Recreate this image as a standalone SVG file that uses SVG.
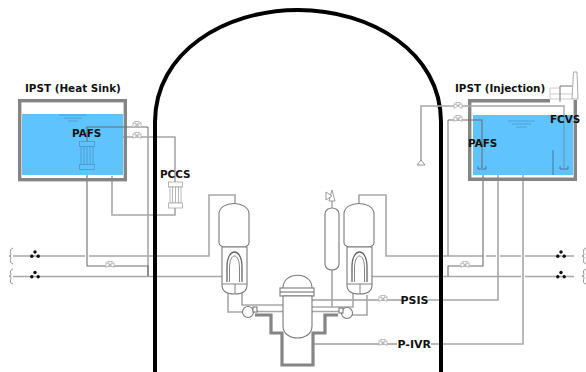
<svg xmlns="http://www.w3.org/2000/svg" width="586" height="372" viewBox="0 0 586 372">
<defs>
<style>
text{font-family:"DejaVu Sans",sans-serif;font-weight:700;fill:#111;font-size:10.4px}
.p{fill:none;stroke:#a8a8a8;stroke-width:1.6}
.d{fill:none;stroke:#6e6e6e;stroke-width:1.1}
.t{fill:none;stroke:#858585;stroke-width:3.2}
.e{fill:#fff;stroke:#7a7a7a;stroke-width:1.1}
.w{fill:#5fc3fd}
.l{fill:none;stroke:#4f9ac8;stroke-width:.8}
.h{fill:#111}
.j{fill:none;stroke:#777;stroke-width:.9}
.n{fill:none;stroke:#3d6f90;stroke-width:.9}
</style>
<g id="v"><path d="M-4 -2.500L4 2.500V-2.500L-4 2.500ZM0 0L-2.500 -3.500H2.500Z" fill="#fff" stroke="#b5b5b5" stroke-width=".9"/></g>
<g id="c"><circle cx="0" cy="-2.500" r="1.700" class="h"/><circle cx="-3.200" cy="1.800" r="1.700" class="h"/><circle cx="3.200" cy="1.800" r="1.700" class="h"/></g>
</defs>
<rect width="586" height="372" fill="#fff"/>

<g id="connectors">
<path class="p" d="M13 256H85M89 256H209V195H235V204"/>
<path class="p" d="M13 276.500H222"/>
<path class="p" d="M148 127V276.500"/>
<path class="p" d="M123 137H175V182M112 176V215H175V208"/>
<path class="d" d="M87 169V266H148V276"/>
<path class="p" d="M359 204V195H386V256H483M486 256H496M500 256H521M525 256H574"/>
<path class="p" d="M372 276.500H521M525 276.500H574"/>
<path class="p" d="M448 120V256"/>
<path class="d" d="M483 175V266H448V276"/>
<path class="p" d="M498 175V300H427M523 175V344H431"/>
<path class="d" d="M402 300H311M397 344H313"/>
<path class="p" d="M228 291V312H242M242 293V305H283M255 311.500H283"/>
<path class="p" d="M367 295V315H352M353 293V307H311M311 311.500H340"/>
<path class="p" d="M332 269V307"/>
</g>

<g id="containment"><path d="M155 372V122C155 52 225 10 298 10C371 10 441 52 441 122V372" fill="none" stroke="#000" stroke-width="4"/></g>

<g id="ipst-heat-sink">
<rect class="w" x="22" y="114" width="101" height="61"/>
<rect x="19.700" y="100.700" width="105.600" height="79" fill="none" stroke="#858585" stroke-width="3.400"/>
<path class="l" d="M59 115H87M64 118H82M68 121H78"/>
<text x="25" y="92">IPST (Heat Sink)</text>
</g>
<g id="pafs-left-hx" fill="#5fc3fd" stroke="#4f9ac8" stroke-width=".9">
<rect x="79.500" y="141.500" width="15" height="5"/><rect x="81" y="146.500" width="12" height="18"/><rect x="79.500" y="164.500" width="15" height="5"/>
<path d="M84 146.500V164.500M87 146.500V164.500M90 146.500V164.500" fill="none"/>
<path class="d" d="M87 141V127H148"/>
<text x="72" y="137" stroke="none">PAFS</text>
</g>
<g id="pccs" fill="#fff" stroke="#a5a5a5" stroke-width=".8">
<rect x="168.500" y="182" width="14" height="5"/><rect x="170" y="187" width="11" height="16"/><rect x="168.500" y="203" width="14" height="5"/>
<path d="M172.500 187V203M175.500 187V203M178.500 187V203" fill="none"/>
<text x="160" y="178" stroke="none">PCCS</text>
</g>

<g id="ipst-injection">
<rect class="w" x="473" y="115" width="100" height="60"/>
<path d="M550 100.700H469.700V179.300H575.300V100" fill="none" stroke="#858585" stroke-width="3.400"/>
<path class="l" d="M508 121H535M512 124H531M516 127H527"/>
<path class="d" d="M448 120H482V168"/>
<path class="n" d="M478 166V169H486V166M560 166V169H568V166M553 150V175"/>
<path d="M564 107V169" stroke="#6f8fa5" stroke-width="1"/>
<path d="M550 88H560M550 88V100M550 94H572M550 99H572" fill="none" stroke="#ccc" stroke-width="1"/>
<path d="M560 102V86H572" fill="none" stroke="#777" stroke-width="1"/>
<path d="M572 99L573.500 72H577L578 99Z" fill="#fff" stroke="#aaa" stroke-width="1"/>
<text x="455" y="92">IPST (Injection)</text>
<text x="468" y="147">PAFS</text>
<text x="550" y="123">FCVS</text>
</g>

<g id="spray"><path d="M564 107V106H421V161" class="p" stroke-width="1.200"/><path d="M421 160L417 165H425Z" fill="#fff" stroke="#888" stroke-width=".9"/></g>
<g id="valves">
<use href="#v" x="137" y="125"/><use href="#v" x="137" y="136"/>
<use href="#v" x="458" y="106"/><use href="#v" x="458" y="119"/>
<use href="#v" x="110" y="265"/><use href="#v" x="465" y="265"/>
<use href="#v" x="383" y="299"/><use href="#v" x="383" y="343"/>
</g>
<g id="check-valves">
<use href="#c" x="35" y="254.500"/><use href="#c" x="35" y="275"/>
<use href="#c" x="561" y="254.500"/><use href="#c" x="561" y="275"/>
</g>
<g id="breaks" fill="none" stroke="#888" stroke-width=".9">
<path d="M13 248C7 250 14 256 9 256C14 256 7 262 13 264M13 269C7 271 14 276 9 276C14 276 7 283 13 284"/>
<path d="M586 248C580 250 587 256 582 256C587 256 580 262 586 264M586 269C580 271 587 276 582 276C587 276 580 283 586 284"/>
</g>

<g id="sg-left">
<path class="e" d="M219 214C219 200 249 200 249 214V243C249 246 246 246 245 247H223C222 246 219 246 219 243Z"/>
<path class="e" d="M222 247H247V285C247 292 241 294 234.500 294C228 294 222 292 222 285Z"/>
<path d="M227 282V267C227 247 242 247 242 267V282" fill="none" stroke="#666" stroke-width="1.300"/>
<path class="j" d="M222 284H247M235 284V294M229.500 282V268C229.500 252 239.500 252 239.500 268V282"/>
</g>
<g id="sg-right">
<path class="e" d="M344 214C344 200 374 200 374 214V243C374 246 371 246 370 247H348C347 246 344 246 344 243Z"/>
<path class="e" d="M347 247H372V285C372 292 366 294 359.500 294C353 294 347 292 347 285Z"/>
<path d="M352 282V267C352 247 367 247 367 267V282" fill="none" stroke="#666" stroke-width="1.300"/>
<path class="j" d="M347 284H372M360 284V294M354.500 282V268C354.500 252 364.500 252 364.500 268V282"/>
</g>
<g id="pressurizer">
<path class="e" d="M325 214C325 206 339 206 339 214V264C339 272 325 272 325 264Z"/>
<path class="j" d="M332 208V200"/>
<path d="M329 201L332 190L335 201Z" fill="#fff" stroke="#888" stroke-width=".8"/>
<path d="M332 196L326 192V200Z" fill="#fff" stroke="#888" stroke-width=".8"/>
</g>
<g id="reactor">
<path class="t" d="M255 315H271V333H282V365H313V333H325V315H338"/>
<path class="e" d="M283 288C283 271 312 271 312 288"/>
<rect x="280" y="288" width="34" height="8" class="e"/>
<path d="M280 292H314" stroke="#666" stroke-width="1"/>
<path class="e" d="M283 296H312V326C312 342 283 342 283 326Z"/>
</g>
<g id="pumps">
<circle class="e" cx="248" cy="312" r="5.500"/><circle class="e" cx="347" cy="313" r="5.500"/>
<rect class="e" x="253" y="307" width="4" height="5"/><rect class="e" x="339" y="308" width="4" height="5"/>
</g>
<text x="400.500" y="304" id="psis" style="font-size:11px">PSIS</text>
<text x="397.500" y="348" id="p-ivr" style="font-size:11px">P-IVR</text>
</svg>
